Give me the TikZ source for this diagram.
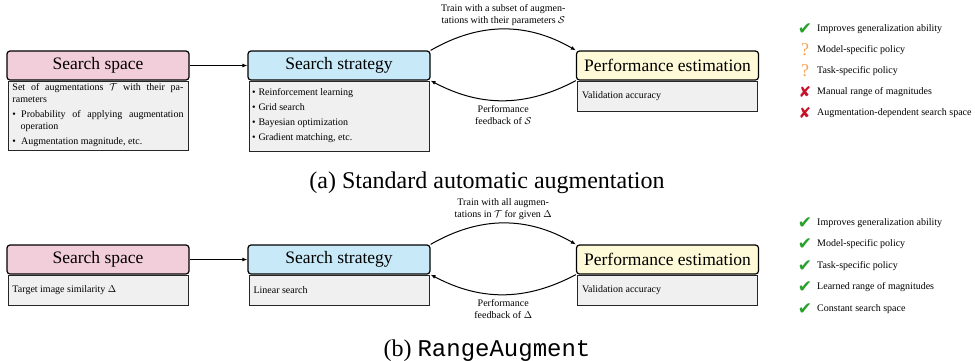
\documentclass[tikz,border=0pt]{standalone}
\usepackage{amsmath,amssymb}
\usepackage{xcolor}
\usepackage{fontspec}
\setmainfont{Liberation Serif}
\setmonofont{Liberation Mono}
\newfontfamily\symbfont{DejaVu Sans}
\usetikzlibrary{arrows.meta}
\usetikzlibrary{positioning}
\definecolor{spacepink}{RGB}{242,205,218}
\definecolor{stratblue}{RGB}{200,233,248}
\definecolor{perfyellow}{RGB}{254,249,214}
\definecolor{bodygray}{RGB}{240,240,240}
\definecolor{okgreen}{RGB}{40,160,44}
\definecolor{maybeorange}{RGB}{247,160,80}
\definecolor{badred}{RGB}{200,16,40}
\newcommand{\iconyes}{\textcolor{okgreen}{\fontsize{17}{17}\symbfont\char"2714}}
\newcommand{\iconmaybe}{\textcolor{maybeorange}{\fontsize{18}{18}\selectfont ?}}
\newcommand{\iconno}{\textcolor{badred}{\fontsize{15}{15}\symbfont\char"2718}}
\newenvironment{boxlist}[2]{\begin{list}{\textbullet}{%
\setlength{\leftmargin}{#1}\setlength{\labelsep}{#2}\setlength{\labelwidth}{3pt}%
\setlength{\topsep}{3pt}\setlength{\partopsep}{0pt}%
\setlength{\itemsep}{3pt}\setlength{\parsep}{0pt}}}{\end{list}}
\tikzstyle{headbox} = [draw=black, line width=1.2pt, rounded corners=3pt,
minimum width=182pt, minimum height=29pt, inner sep=0pt,
font=\fontsize{17.5}{20}\selectfont]
\tikzstyle{bodybox} = [draw=black!85, line width=0.8pt, fill=bodygray,
minimum width=180pt, minimum height=30pt, inner sep=0pt,
font=\fontsize{10}{12}\selectfont]
\tikzstyle{lbl} = [font=\fontsize{10}{12}\selectfont, align=center]
\tikzstyle{capt} = [font=\fontsize{24}{28}\selectfont]
\tikzstyle{arr} = [line width=1pt, -{Latex[length=5pt,width=4pt]}]

\begin{document}
\begin{tikzpicture}[x=1pt, y=-1pt]
        \useasboundingbox (0,0) rectangle (975,360);
        % (a) standard automatic augmentation
        \node [headbox, fill=spacepink] (spaceA) at (98,65.5) {Search space};
        \node [bodybox, minimum height=69pt, below=0pt of spaceA] (spaceAbody) {%
            \begin{minipage}{171pt}
                Set of augmentations $\mathcal{T}$ with their pa-\linebreak rameters
                \begin{boxlist}{8.2pt}{5.2pt}
                    \item Probability of applying augmentation\linebreak operation
                    \item Augmentation magnitude, etc.
                \end{boxlist}
            \end{minipage}
        };
        \node [headbox, fill=stratblue] (stratA) at (339,65.5) {Search strategy};
        \node [bodybox, minimum height=70pt, below=0pt of stratA] (stratAbody) {%
            \begin{minipage}{174pt}
                \begin{boxlist}{6pt}{3pt}
                    \item Reinforcement learning
                    \item Grid search
                    \item Bayesian optimization
                    \item Gradient matching, etc.
                \end{boxlist}
            \end{minipage}
        };
        \node [headbox, fill=perfyellow] (perfA) at (667.5,65.5) {Performance estimation};
        \node [bodybox, below=0pt of perfA] (perfAbody) {%
            \begin{minipage}{171pt}Validation accuracy\end{minipage}
        };
        \draw [arr] (spaceA) -- (stratA);
        \draw [arr] (stratA.north east) to[bend left=30]
            node[above=0pt, lbl] (trainA) {Train with a subset of augmen-\\tations with their parameters $\mathcal{S}$}
            (perfA.north west);
        \draw [arr] (perfA.south west) to[bend left=28]
            node[below=1pt, lbl] (feedA) {Performance\\feedback of $\mathcal{S}$}
            (stratA.south east);
        \foreach \ic/\txt [count=\k] in {\iconyes/Improves generalization ability,
            \iconmaybe/Model-specific policy, \iconmaybe/Task-specific policy,
            \iconno/Manual range of magnitudes, \iconno/Augmentation-dependent search space}{
            \node (icoA\k) at (805,{29+(\k-1)*21}) {\ic};
            \node [lbl, anchor=west, inner sep=0pt] (legA\k) at (817,{29+(\k-1)*21}) {\txt};
        }
        \node [capt] (captA) at (487,182.5) {(a) Standard automatic augmentation};

        % (b) RangeAugment
        \node [headbox, fill=spacepink] (spaceB) at (98,259.5) {Search space};
        \node [bodybox, below=0pt of spaceB] (spaceBbody) {%
            \begin{minipage}{171pt}Target image similarity $\Delta$\end{minipage}
        };
        \node [headbox, fill=stratblue] (stratB) at (339,259.5) {Search strategy};
        \node [bodybox, below=0pt of stratB] (stratBbody) {%
            \begin{minipage}{171pt}Linear search\end{minipage}
        };
        \node [headbox, fill=perfyellow] (perfB) at (667.5,259.5) {Performance estimation};
        \node [bodybox, below=0pt of perfB] (perfBbody) {%
            \begin{minipage}{171pt}Validation accuracy\end{minipage}
        };
        \draw [arr] (spaceB) -- (stratB);
        \draw [arr] (stratB.north east) to[bend left=30]
            node[above=0pt, lbl] (trainB) {Train with all augmen-\\tations in $\mathcal{T}$ for given $\Delta$}
            (perfB.north west);
        \draw [arr] (perfB.south west) to[bend left=28]
            node[below=1pt, lbl] (feedB) {Performance\\feedback of $\Delta$}
            (stratB.south east);
        \foreach \txt [count=\k] in {Improves generalization ability, Model-specific policy,
            Task-specific policy, Learned range of magnitudes, Constant search space}{
            \node (icoB\k) at (805,{223+(\k-1)*21.5}) {\iconyes};
            \node [lbl, anchor=west, inner sep=0pt] (legB\k) at (817,{223+(\k-1)*21.5}) {\txt};
        }
        \node [capt] (captB) at (487,351) {(b) \texttt{RangeAugment}};
    \end{tikzpicture}
\end{document}
